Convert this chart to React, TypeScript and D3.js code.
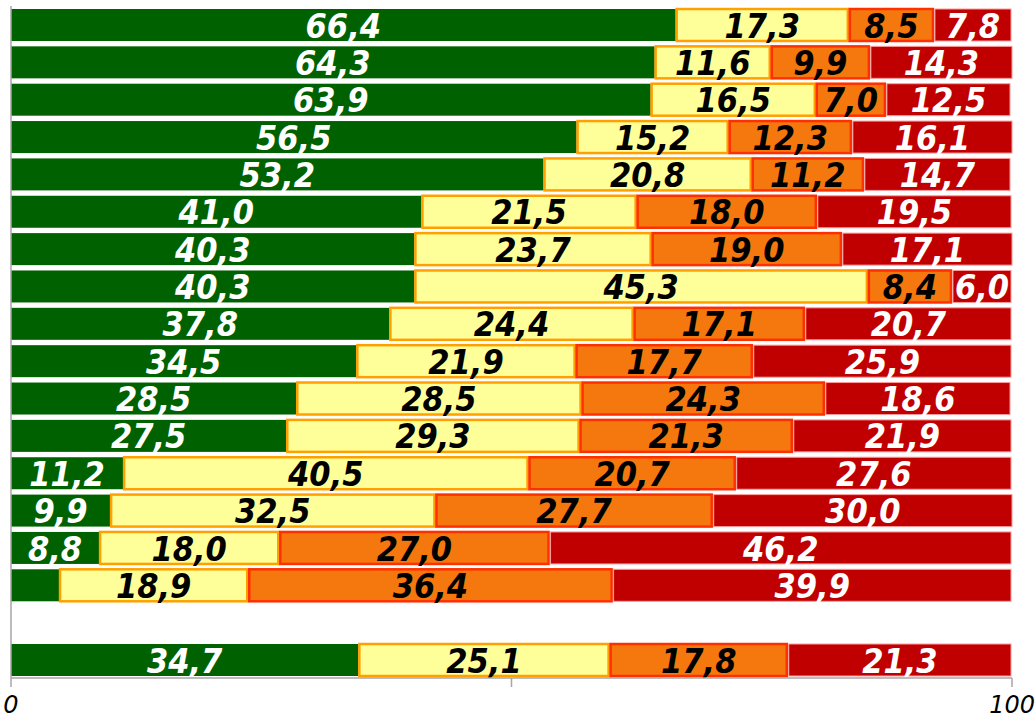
import React, { useEffect, useRef } from "react";
import * as d3 from "d3";

// row values, top to bottom (green, yellow, orange, red)
const green = [66.4, 64.3, 63.9, 56.5, 53.2, 41.0, 40.3, 40.3, 37.8, 34.5, 28.5, 27.5, 11.2, 9.9, 8.8, 4.8];
const yellow = [17.3, 11.6, 16.5, 15.2, 20.8, 21.5, 23.7, 45.3, 24.4, 21.9, 28.5, 29.3, 40.5, 32.5, 18.0, 18.9];
const orange = [8.5, 9.9, 7.0, 12.3, 11.2, 18.0, 19.0, 8.4, 17.1, 17.7, 24.3, 21.3, 20.7, 27.7, 27.0, 36.4];
const red = [7.8, 14.3, 12.5, 16.1, 14.7, 19.5, 17.1, 6.0, 20.7, 25.9, 18.6, 21.9, 27.6, 30.0, 46.2, 39.9];

// total row: the red bar is drawn wider than its printed label
const totalValues = [34.7, 25.1, 17.8, 22.4];
const totalLabels = ["34,7", "25,1", "17,8", "21,3"];

const xTicks = [0, 50, 100];
const xTickLabels = ["0", "", "100"];

const fills = ["#006100", "#ffff99", "#f5780f", "#c00000"];
const strokes = ["none", "#ffa000", "#ff3000", "#ff9a9a"];
const textColors = ["#ffffff", "#000000", "#000000", "#ffffff"];

const fmt = (v: number) => v.toFixed(1).replace(".", ",");

const App: React.FC = () => {
  const svgRef = useRef<SVGSVGElement>(null);

  useEffect(() => {
    if (!svgRef.current) return;
    const width = 1036;
    const height = 720;

    const svg = d3.select(svgRef.current);
    svg.selectAll("*").remove();
    svg.attr("width", width).attr("height", height);

    // build rows
    type Row = { key: string; values: number[]; labels: string[] };
    const rows: Row[] = green.map((g, i) => {
      const vals = [g, yellow[i], orange[i], red[i]];
      return { key: `r${i}`, values: vals, labels: vals.map(fmt) };
    });
    rows.push({ key: "gap", values: [], labels: [] });
    rows.push({ key: "total", values: totalValues, labels: totalLabels });

    const x = d3.scaleLinear().domain([0, 100]).range([11, 1012]);
    const y = d3
      .scaleBand<string>()
      .domain(rows.map((r) => r.key))
      .range([8, 677])
      .paddingInner(0.09)
      .paddingOuter(0);

    const g = svg.append("g");

    rows.forEach((row) => {
      let acc = 0;
      const segs = row.values.map((v, j) => {
        const s = { x0: acc, x1: acc + v, v, j, label: row.labels[j] };
        acc += v;
        return s;
      });
      const rowG = g.append("g").attr("transform", `translate(0,${y(row.key)})`);
      const bh = y.bandwidth();

      rowG
        .selectAll("rect")
        .data(segs)
        .enter()
        .append("rect")
        .attr("x", (d) => x(d.x0) + (d.j === 0 ? 0 : 1))
        .attr("y", 1)
        .attr("width", (d) => Math.max(0, x(d.x1) - x(d.x0) - (d.j === 0 ? 0 : 2)))
        .attr("height", bh - 2)
        .attr("fill", (d) => fills[d.j])
        .attr("stroke", (d) => strokes[d.j])
        .attr("stroke-width", (d) => (d.j === 3 ? 1 : 2.5));

      rowG
        .selectAll("text")
        .data(segs.filter((d) => d.v >= 5))
        .enter()
        .append("text")
        .attr("x", (d) => (x(d.x0) + x(d.x1)) / 2)
        .attr("y", bh / 2)
        .attr("dy", "0.37em")
        .attr("text-anchor", "middle")
        .style("font-family", "'DejaVu Sans Condensed', 'DejaVu Sans', Verdana, sans-serif")
        .style("font-size", "34px")
        .style("font-weight", "bold")
        .style("font-style", "italic")
        .style("fill", (d) => textColors[d.j])
        .text((d) => d.label);
    });

    // axes
    const axisY = 678;
    svg
      .append("line")
      .attr("x1", x(0))
      .attr("x2", x(100))
      .attr("y1", axisY)
      .attr("y2", axisY)
      .attr("stroke", "#a6a6a6")
      .attr("stroke-width", 1.5);
    svg
      .append("line")
      .attr("x1", x(0))
      .attr("x2", x(0))
      .attr("y1", 6)
      .attr("y2", axisY)
      .attr("stroke", "#a6a6a6")
      .attr("stroke-width", 1.5);

    svg
      .selectAll("line.tick")
      .data(xTicks)
      .enter()
      .append("line")
      .attr("class", "tick")
      .attr("x1", (d) => x(d))
      .attr("x2", (d) => x(d))
      .attr("y1", axisY)
      .attr("y2", axisY + 9)
      .attr("stroke", "#a6a6a6")
      .attr("stroke-width", 1.5);

    svg
      .selectAll("text.ticklabel")
      .data(xTicks)
      .enter()
      .append("text")
      .attr("class", "ticklabel")
      .attr("x", (d, i) => (i === xTicks.length - 1 ? 1035 : x(d)))
      .attr("y", 713)
      .attr("text-anchor", (_, i) => (i === xTicks.length - 1 ? "end" : "middle"))
      .style("font-family", "'DejaVu Sans', Verdana, sans-serif")
      .style("font-size", "24px")
      .style("font-style", "italic")
      .style("fill", "#000")
      .text((_, i) => xTickLabels[i]);
  }, []);

  return (
    <div style={{ position: "absolute", left: 0, top: 0 }}>
      <svg ref={svgRef}></svg>
    </div>
  );
};

export default App;
